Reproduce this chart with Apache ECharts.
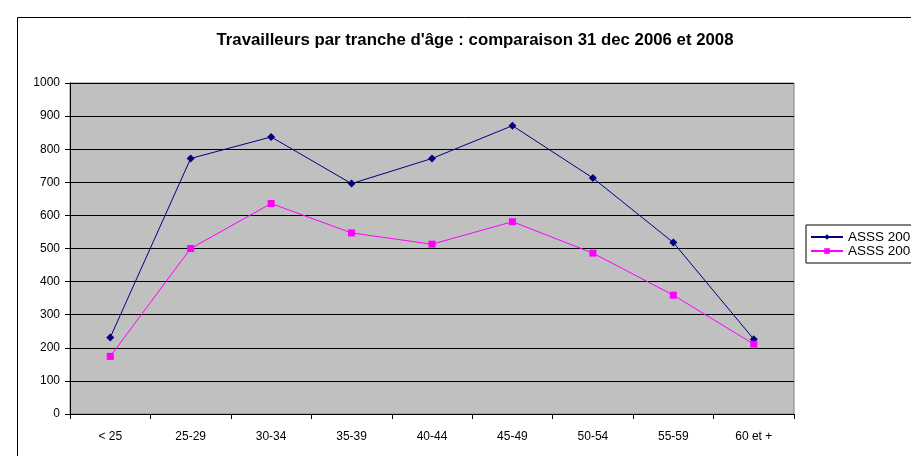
<!DOCTYPE html>
<html>
<head>
<meta charset="utf-8">
<script src="https://cdn.jsdelivr.net/npm/echarts@6/dist/echarts.min.js"></script>
<style>
  html, body { margin: 0; padding: 0; background: #fff; }
  #chart { width: 911px; height: 456px; }
</style>
</head>
<body>
<div id="chart"></div>
<script>
// tranches d'âge
const categories = ['< 25', '25-29', '30-34', '35-39', '40-44', '45-49', '50-54', '55-59', '60 et +'];
const asss2006 = [231, 772, 837, 696, 772, 871, 713, 518, 226];
const asss2008 = [174, 500, 636, 547, 513, 581, 486, 359, 211];
const seriesNames = ['ASSS 2006', 'ASSS 2008'];

const chart = echarts.init(document.getElementById('chart'));

const font = 'Liberation Sans, Arial, sans-serif';

chart.setOption({
  backgroundColor: '#FFFFFF',
  animation: false,
  title: {
    text: "Travailleurs par tranche d'âge : comparaison 31 dec 2006 et 2008",
    left: 470,
    textAlign: 'center',
    top: 27,
    textStyle: { fontSize: 16.8, fontWeight: 'bold', fontFamily: font, color: '#000' },
  },
  graphic: [
    {
      type: 'rect',
      shape: { x: 17.5, y: 17.5, width: 920, height: 460 },
      style: { fill: 'none', stroke: '#000', lineWidth: 1 },
      silent: true,
    },
  ],
  legend: {
    orient: 'vertical',
    left: 806,
    top: 225,
    itemWidth: 32,
    itemHeight: 7,
    itemGap: 0,
    padding: [5, 8, 5, 4],
    borderColor: '#000',
    borderWidth: 1,
    backgroundColor: '#fff',
    textStyle: { fontSize: 13.5, fontFamily: font, color: '#000' },
    data: seriesNames,
  },
  grid: {
    left: 70,
    right: 117,
    top: 83,
    bottom: 42,
    show: true,
    backgroundColor: '#C0C0C0',
    borderColor: '#808080',
    borderWidth: 1,
  },
  xAxis: {
    type: 'category',
    data: categories,
    boundaryGap: true,
    axisLine: { lineStyle: { color: '#000' } },
    axisTick: { show: true, length: 5, lineStyle: { color: '#000' } },
    axisLabel: { fontSize: 12, fontFamily: font, color: '#000', margin: 17 },
  },
  yAxis: {
    type: 'value',
    min: 0,
    max: 1000,
    interval: 100,
    axisLine: { show: true, lineStyle: { color: '#000' } },
    axisTick: { show: true, length: 5, lineStyle: { color: '#000' } },
    axisLabel: {
      fontSize: 12,
      fontFamily: font,
      color: '#000',
      margin: 10,
      formatter: (value) => String(value),
    },
    splitLine: { lineStyle: { color: '#000', width: 1 } },
  },
  series: [
    {
      name: seriesNames[0],
      type: 'line',
      data: asss2006,
      color: '#000080',
      symbol: 'diamond',
      symbolSize: 8,
      lineStyle: { width: 1 },
    },
    {
      name: seriesNames[1],
      type: 'line',
      data: asss2008,
      color: '#FF00FF',
      symbol: 'rect',
      symbolSize: 7,
      lineStyle: { width: 1 },
    },
  ],
});
</script>
</body>
</html>
